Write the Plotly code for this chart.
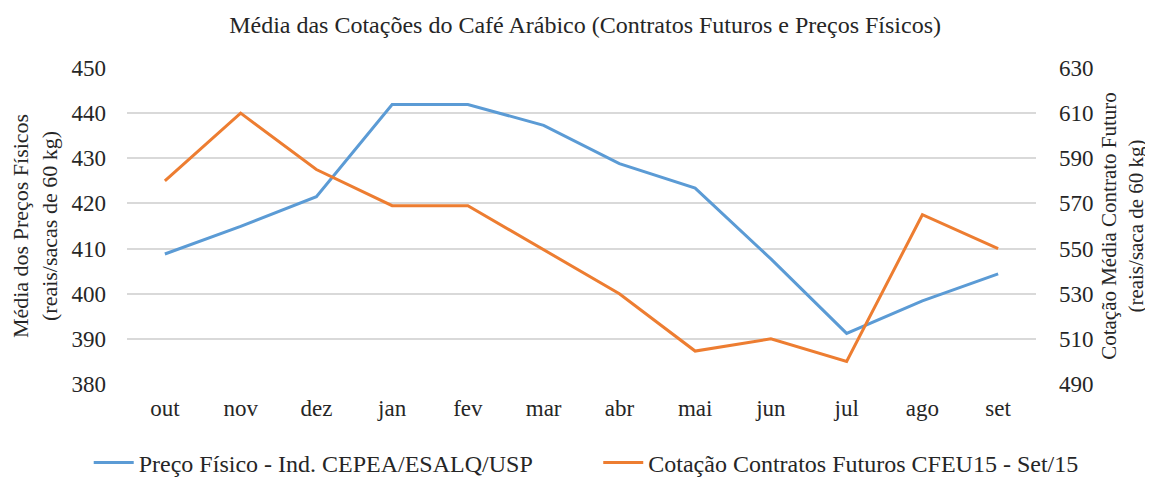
import plotly.graph_objects as go

months = ["out", "nov", "dez", "jan", "fev", "mar", "abr", "mai", "jun", "jul", "ago", "set"]
preco_fisico = [408.8, 414.9, 421.5, 441.9, 441.9, 437.3, 428.8, 423.4, 407.7, 391.2, 398.4, 404.4]
cotacao_futuro = [580, 610, 585, 569, 569, 549.5, 530, 504.6, 510, 500, 565, 550]
series_names = ["Preço Físico - Ind. CEPEA/ESALQ/USP", "Cotação Contratos Futuros CFEU15 - Set/15"]

font_family = "Liberation Serif, Times New Roman, serif"
fs = 23

fig = go.Figure()
fig.add_trace(go.Scatter(
    x=months, y=preco_fisico, mode="lines",
    name=series_names[0], legend="legend",
    line=dict(color="#5b9bd5", width=3), yaxis="y"))
fig.add_trace(go.Scatter(
    x=months, y=cotacao_futuro, mode="lines",
    name=series_names[1], legend="legend2",
    line=dict(color="#ed7d31", width=3), yaxis="y2"))

legend_common = dict(orientation="h", xref="container", yref="container",
                     xanchor="left", yanchor="middle", y=0.03,
                     font=dict(size=24), itemwidth=40, bgcolor="rgba(0,0,0,0)")

# page body has an 8px margin, so the figure is sized/offset accordingly
fig.update_layout(
    width=1145, height=469,
    margin=dict(l=119, r=117, t=60, b=93, autoexpand=False),
    paper_bgcolor="white", plot_bgcolor="white",
    font=dict(family=font_family, size=fs, color="#262626"),
    title=dict(text="Média das Cotações do Café Arábico (Contratos Futuros e Preços Físicos)",
               x=0.504, xanchor="center", y=0.965, yanchor="middle",
               font=dict(size=24, color="#262626")),
    xaxis=dict(showgrid=False, showline=False, zeroline=False, range=[-0.5, 11.5],
               tickfont=dict(size=fs), ticks="", ticklabelstandoff=8),
    yaxis=dict(range=[380, 450], dtick=10, tick0=380, showgrid=True, gridcolor="#d9d9d9", gridwidth=1.5,
               zeroline=False, showline=False, ticks="", ticklabelstandoff=20,
               tickfont=dict(size=fs),
               title=dict(text="Média dos Preços Físicos<br>(reais/sacas de 60 kg)",
                          font=dict(size=22), standoff=10)),
    yaxis2=dict(range=[490, 630], dtick=20, tick0=490, overlaying="y", side="right",
                showgrid=False, zeroline=False, showline=False, ticks="", ticklabelstandoff=22,
                tickfont=dict(size=fs),
                title=dict(text="Cotação Média Contrato Futuro<br>(reais/saca de 60 kg)",
                           font=dict(size=21), standoff=8)),
    legend=dict(x=0.0705, **legend_common),
    legend2=dict(x=0.5155, **legend_common),
    showlegend=True,
)

fig.write_html("out.html")
